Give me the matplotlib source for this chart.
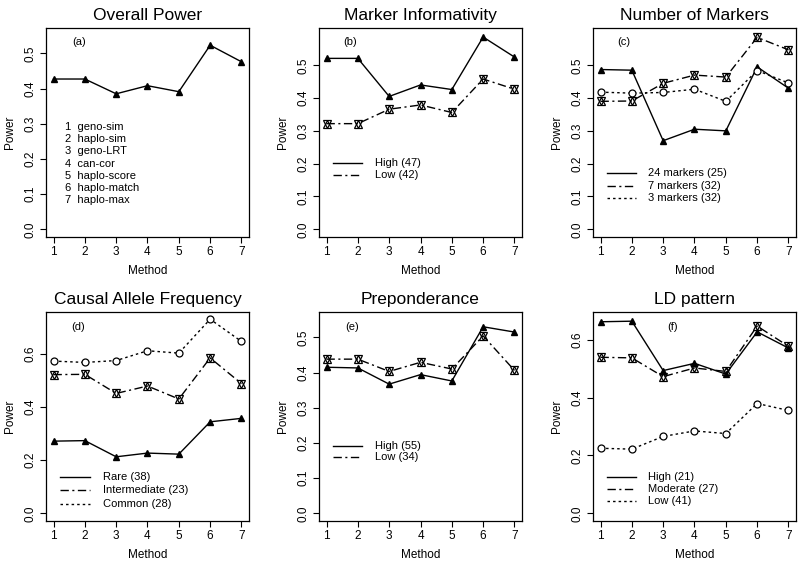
import numpy as np
import matplotlib.pyplot as plt

plt.rcParams['font.family'] = ['Liberation Sans', 'DejaVu Sans']

########## DATOS #########

metodos = [1, 2, 3, 4, 5, 6, 7]
nombres_metodos = ['geno-sim', 'haplo-sim', 'geno-LRT', 'can-cor',
                   'haplo-score', 'haplo-match', 'haplo-max']

# (a) potencia global
potencia_global = [0.427, 0.427, 0.385, 0.408, 0.391, 0.523, 0.476]

# (b) informatividad de marcadores
info_alta = [0.521, 0.521, 0.405, 0.440, 0.426, 0.586, 0.525]
info_baja = [0.322, 0.322, 0.366, 0.379, 0.356, 0.458, 0.427]

# (c) numero de marcadores
marc_24 = [0.487, 0.485, 0.270, 0.305, 0.300, 0.495, 0.430]
marc_7 = [0.390, 0.391, 0.445, 0.470, 0.464, 0.585, 0.547]
marc_3 = [0.418, 0.415, 0.417, 0.427, 0.390, 0.484, 0.446]

# (d) frecuencia del alelo causal
alelo_raro = [0.272, 0.274, 0.213, 0.227, 0.223, 0.345, 0.358]
alelo_inter = [0.523, 0.524, 0.452, 0.480, 0.431, 0.586, 0.489]
alelo_comun = [0.574, 0.569, 0.576, 0.613, 0.604, 0.732, 0.648]

# (e) preponderancia
prep_alta = [0.415, 0.413, 0.367, 0.394, 0.376, 0.530, 0.515]
prep_baja = [0.438, 0.438, 0.403, 0.429, 0.410, 0.504, 0.406]

# (f) patron de LD
ld_alto = [0.663, 0.665, 0.494, 0.519, 0.482, 0.628, 0.572]
ld_moderado = [0.540, 0.538, 0.473, 0.503, 0.491, 0.648, 0.578]
ld_bajo = [0.225, 0.222, 0.266, 0.285, 0.276, 0.380, 0.356]

titulos = ['Overall Power', 'Marker Informativity', 'Number of Markers',
           'Causal Allele Frequency', 'Preponderance', 'LD pattern']
letras = ['(a)', '(b)', '(c)', '(d)', '(e)', '(f)']

series = [
    [(potencia_global, None)],
    [(info_alta, 'High (47)'), (info_baja, 'Low (42)')],
    [(marc_24, '24 markers (25)'), (marc_7, '7 markers (32)'), (marc_3, '3 markers (32)')],
    [(alelo_raro, 'Rare (38)'), (alelo_inter, 'Intermediate (23)'), (alelo_comun, 'Common (28)')],
    [(prep_alta, 'High (55)'), (prep_baja, 'Low (34)')],
    [(ld_alto, 'High (21)'), (ld_moderado, 'Moderate (27)'), (ld_bajo, 'Low (41)')],
]

# limite superior del eje y (R agrega 4% a cada lado)
ytop = [0.55, 0.59, 0.59, 0.73, 0.55, 0.67]
ypaso = [0.1, 0.1, 0.1, 0.2, 0.1, 0.2]

########## ESTILOS #########

estilo_linea = [dict(ls='-'),
                dict(dashes=(6, 2.5, 1.5, 2.5)),
                dict(dashes=(1.8, 2.2))]

# posicion de los ejes en pixeles (izq, arriba)
izq = [46, 319, 593]
arriba = [28, 312]
ancho, alto = 203, 209
W, H = 800, 568

# posicion de leyendas (x linea, x texto, y primera fila, paso) en fraccion del eje
pos_leyenda = [
    (None, 0.094, 0.526, 0.0584),
    ((0.069, 0.212), 0.276, 0.354, 0.055),
    ((0.069, 0.213), 0.272, 0.306, 0.060),
    ((0.069, 0.217), 0.281, 0.211, 0.065),
    ((0.069, 0.212), 0.276, 0.360, 0.055),
    ((0.069, 0.213), 0.272, 0.211, 0.058),
]
pos_letra = [(0.128, 0.933), (0.118, 0.933), (0.119, 0.933),
             (0.123, 0.928), (0.128, 0.928), (0.366, 0.928)]


def dibujar_marcador(ax, x, y, k):
    if k == 0:
        ax.plot(x, y, ls='none', marker='^', ms=5, color='black', zorder=3)
    elif k == 1:
        ax.plot(x, y, ls='none', marker='^', ms=5.5, mfc='none', mec='black', mew=0.9, zorder=3)
        ax.plot(x, y, ls='none', marker='v', ms=5.5, mfc='none', mec='black', mew=0.9, zorder=3)
    else:
        ax.plot(x, y, ls='none', marker='o', ms=5, mfc='white', mec='black', mew=0.9, zorder=3)


fig = plt.figure(figsize=(8, 5.68), dpi=100)

for i in range(6):
    fila, col = i // 3, i % 3
    ax = fig.add_axes([izq[col] / W, 1 - (arriba[fila] + alto) / H, ancho / W, alto / H])

    for k, (valores, nombre) in enumerate(series[i]):
        ax.plot(metodos, valores, color='black', lw=1.0, **estilo_linea[k])
        dibujar_marcador(ax, metodos, valores, k)

    # limites al estilo R
    ax.set_xlim(1 - 0.24, 7 + 0.24)
    ax.set_ylim(-0.04 * ytop[i], ytop[i] * 1.04)
    ax.set_xticks(metodos)
    ax.set_yticks(np.arange(0, ytop[i] + 1e-9, ypaso[i]))
    ax.set_yticklabels(['%.1f' % v for v in np.arange(0, ytop[i] + 1e-9, ypaso[i])],
                       rotation=90, va='center')
    ax.tick_params(direction='out', length=4.3, width=0.8, labelsize=8.5, pad=2.5)
    for s in ax.spines.values():
        s.set_linewidth(0.9)

    ax.set_title(titulos[i], fontsize=12.5, pad=6)
    ax.set_xlabel('Method', fontsize=8.5, labelpad=5)
    ax.set_ylabel('Power', fontsize=8.5, labelpad=6)

    ax.text(pos_letra[i][0], pos_letra[i][1], letras[i], transform=ax.transAxes,
            fontsize=8, ha='left', va='center')

    # leyenda manual sin caja
    xl, xt, y0, paso = pos_leyenda[i]
    if i == 0:
        for j, nom in enumerate(nombres_metodos):
            ax.text(xt, y0 - j * paso, '%d  %s' % (metodos[j], nom), transform=ax.transAxes,
                    fontsize=8, ha='left', va='center')
    else:
        for k, (valores, nombre) in enumerate(series[i]):
            yy = y0 - k * paso
            ax.plot(xl, [yy, yy], transform=ax.transAxes, color='black', lw=1.0,
                    **estilo_linea[k])
            ax.text(xt, yy, nombre, transform=ax.transAxes, fontsize=8,
                    ha='left', va='center')

fig.savefig('out.png', dpi=100)
